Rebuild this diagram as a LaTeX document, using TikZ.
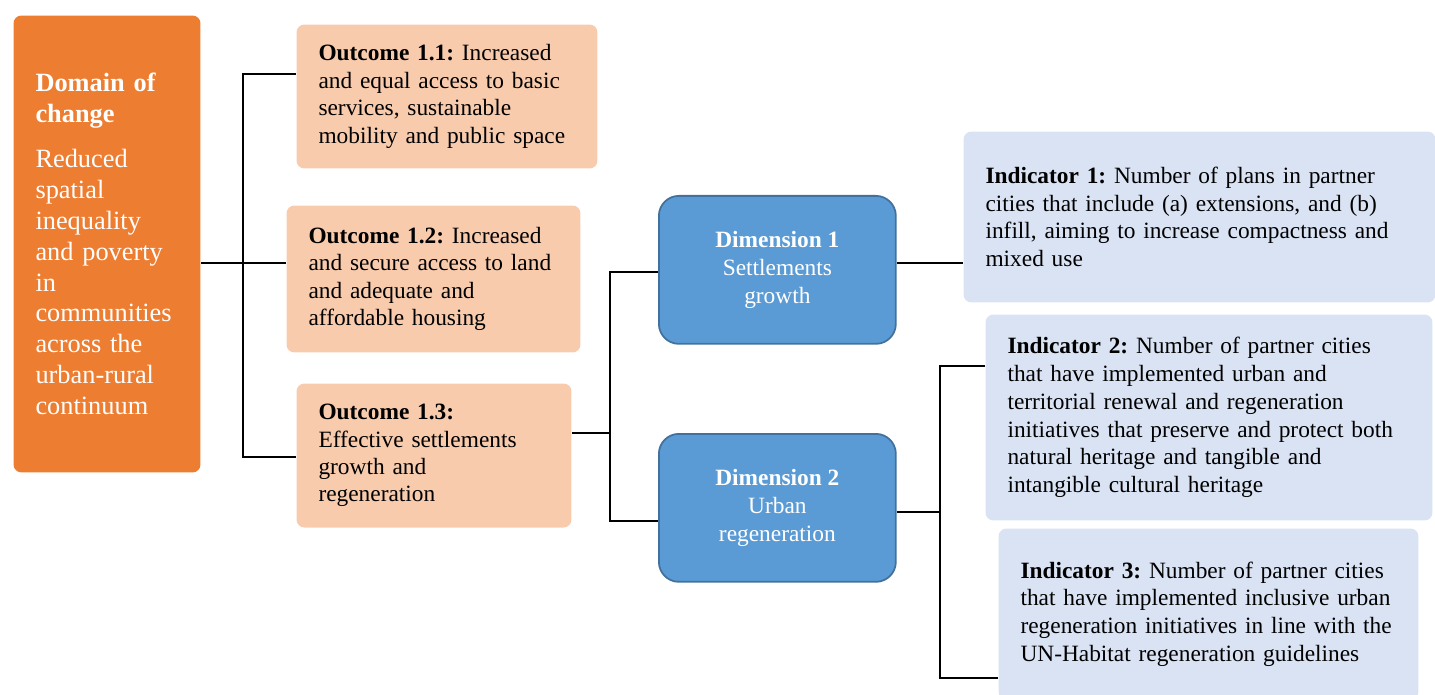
\documentclass[tikz,border=0pt]{standalone}
\usepackage{fontspec}
\setmainfont{Liberation Serif}

\definecolor{domainorange}{HTML}{ED7D31}
\definecolor{outcomepeach}{HTML}{F8CBAD}
\definecolor{dimblue}{HTML}{5B9BD5}
\definecolor{dimedge}{HTML}{41719C}
\definecolor{indblue}{HTML}{DAE3F3}

\begin{document}
\frenchspacing
\begin{tikzpicture}[%
        x = 0.02cm,
        y = -0.02cm,
        line width = 0.6pt,
        boxbase/.style = {%
            anchor = north west,
            inner xsep = 0.44cm,
            inner ysep = 0pt,
            align = left,
            rounded corners = 4.5pt,
            font = \fontsize{13.3}{15.6}\selectfont
        },
        domainbox/.style = {%
            boxbase,
            fill = domainorange,
            text = white,
            font = \fontsize{15}{17.6}\selectfont
        },
        outcomebox/.style = {boxbase, fill = outcomepeach},
        indbox/.style = {%
            boxbase,
            fill = indblue,
            font = \fontsize{13.3}{15.8}\selectfont
        },
        dimbox/.style = {%
            anchor = north west,
            fill = dimblue,
            draw = dimedge,
            line width = 1pt,
            text = white,
            align = center,
            rounded corners = 0.4cm,
            minimum width = 4.74cm,
            minimum height = 2.96cm,
            font = \fontsize{13.3}{15.9}\selectfont
        }
    ]

        \useasboundingbox (0, 0) rectangle (1435, 695);

        % Domain of change.
        \node[domainbox, text width = 2.86cm, minimum width = 3.74cm,
              minimum height = 9.14cm] (dom) at (13, 15)
            {\textbf{Domain of}\\\textbf{change}\\[8pt]
             Reduced\\spatial\\inequality\\and poverty\\in\\communities\\
             across the\\urban-rural\\continuum};

        % Outcomes.
        \node[outcomebox, text width = 5.14cm, minimum width = 6.02cm,
              minimum height = 2.88cm] (o11) at (296, 24)
            {\textbf{Outcome 1.1:} Increased\\and equal access to basic\\
             services, sustainable\\mobility and public space};
        \node[outcomebox, text width = 5.00cm, minimum width = 5.88cm,
              minimum height = 2.94cm] (o12) at (286, 205)
            {\textbf{Outcome 1.2:} Increased\\and secure access to land\\
             and adequate and\\affordable housing};
        \node[outcomebox, text width = 4.62cm, minimum width = 5.50cm,
              minimum height = 2.88cm] (o13) at (296, 383)
            {\textbf{Outcome 1.3:}\\Effective settlements\\growth and\\regeneration};

        % Dimensions.
        \node[dimbox] (d1) at (658, 195)
            {\textbf{Dimension 1}\\Settlements\\growth};
        \node[dimbox] (d2) at (658, 433)
            {\textbf{Dimension 2}\\Urban\\regeneration};

        % Indicators.
        \node[indbox, text width = 8.56cm, minimum width = 9.44cm,
              minimum height = 3.42cm] (i1) at (963, 131)
            {\textbf{Indicator 1:} Number of plans in partner\\
             cities that include (a) extensions, and (b)\\
             infill, aiming to increase compactness and\\mixed use};
        \node[indbox, text width = 8.06cm, minimum width = 8.94cm,
              minimum height = 4.12cm] (i2) at (985, 314)
            {\textbf{Indicator 2:} Number of partner cities\\
             that have implemented urban and\\
             territorial renewal and regeneration\\
             initiatives that preserve and protect both\\
             natural heritage and tangible and\\
             intangible cultural heritage};
        \node[indbox, text width = 7.52cm, minimum width = 8.40cm,
              minimum height = 3.42cm] (i3) at (998, 528)
            {\textbf{Indicator 3:} Number of partner cities\\
             that have implemented inclusive urban\\
             regeneration initiatives in line with the\\
             UN-Habitat regeneration guidelines};

        % Coordinates for the bus lines.
        \coordinate (busA)  at (243, 263);
        \coordinate (tapA1) at (243, 74);
        \coordinate (tapA3) at (243, 457);
        \coordinate (busB)  at (610, 433);
        \coordinate (tapB1) at (610, 272);
        \coordinate (tapB2) at (610, 521);
        \coordinate (busC)  at (930, 263);
        \coordinate (busD)  at (940, 512);
        \coordinate (tapD1) at (940, 366);
        \coordinate (tapD2) at (940, 678);

        % Connectors.
        \draw (dom.east |- busA) -- (o12.west |- busA);
        \draw (o11.west |- tapA1) -- (tapA1) -- (tapA3) -- (o13.west |- tapA3);
        \draw (o13.east |- busB) -- (busB);
        \draw (d1.west |- tapB1) -- (tapB1) -- (tapB2) -- (d2.west |- tapB2);
        \draw (d1.east |- busC) -- (i1.west |- busC);
        \draw (d2.east |- busD) -- (busD);
        \draw (i2.west |- tapD1) -- (tapD1) -- (tapD2) -- (i3.west |- tapD2);
    \end{tikzpicture}
\end{document}
